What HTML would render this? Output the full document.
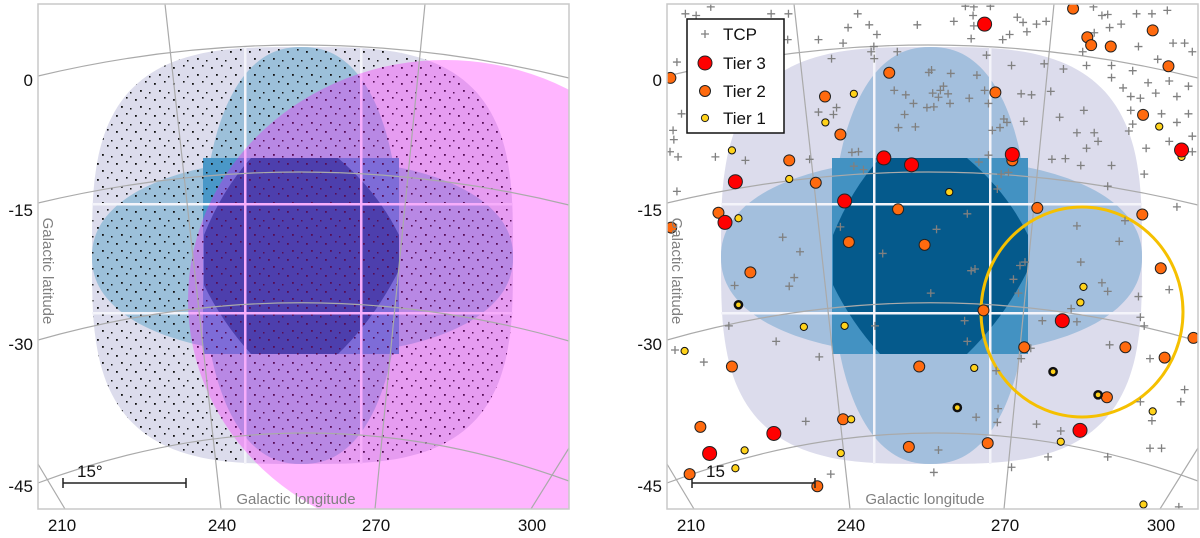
<!DOCTYPE html>
<html><head><meta charset="utf-8"><style>
html,body{margin:0;padding:0;background:#fff;width:1200px;height:538px;overflow:hidden}
svg{display:block}
text{font-family:"Liberation Sans","DejaVu Sans",sans-serif}
</style></head><body>
<svg id="chart" width="1200" height="538" viewBox="0 0 1200 538" xmlns="http://www.w3.org/2000/svg">
<defs>
<pattern id="dots" width="19" height="16" patternUnits="userSpaceOnUse">
<rect x="2" y="3" width="1.8" height="1.8" fill="#111"/>
<rect x="12" y="1" width="1.6" height="1.6" fill="#111"/>
<rect x="7" y="10" width="1.8" height="1.8" fill="#111"/>
<rect x="16" y="12" width="1.5" height="1.5" fill="#111"/>
</pattern>
<clipPath id="clipL"><rect x="38" y="4" width="531" height="505"/></clipPath>
<clipPath id="clipR"><rect x="667" y="4" width="531" height="505"/></clipPath>
</defs>
<g id="left" clip-path="url(#clipL)"></g>
<g id="right" clip-path="url(#clipR)"></g>
<g id="over"></g>
</svg>
<script>
// Marker data (in reference plot units; converted via axis functions)
const tier3X=[1000,738,810,1072,352,636,325,1202,1512,452,285,1248];
const tier3Y=[70,458,478,448,527,583,645,930,435,1257,1315,1248];
const tier2X=[1230,1437,1267,1277,1328,1478,183,752,1028,585,1412,625,492,1072,561,775,1137,1410,308,185,647,844,391,1458,997,1103,1366,1543,1468,343,830,1318,632,261,803,1008,233,565];
const tier2Y=[25,88,108,131,135,192,226,211,268,280,333,390,465,465,530,607,603,622,617,660,702,710,790,778,900,1007,1007,980,1037,1063,1063,1152,1216,1238,1296,1285,1375,1410];
const tier1X=[660,586,1454,343,1512,492,908,360,1257,1249,360,530,636,220,973,1178,1295,929,653,1437,1198,626,376,352,1413];
const tier1Y=[272,355,367,436,455,519,557,633,832,877,884,948,945,1018,1067,1078,1145,1182,1216,1193,1281,1314,1306,1358,1463];
const tier1Bold=[0,0,0,0,0,0,0,0,0,0,1,0,0,0,0,1,1,1,0,0,0,0,0,0,0];
const tcpX=[288,222,250,445,490,670,700,645,568,488,632,712,720,825,920,950,972,1015,970,972,965,1085,1100,1135,1160,1110,1065,1047,1005,1070,1155,1205,1283,1305,1320,1355,1395,1435,1475,1400,1450,1520,1540,1490,1330,1255,1285,1325,1265,1330,1385,1425,1480,1530,1360,1445,1500,1380,1405,1460,1530,1380,1500,1385,1375,1540,1480,1420,1540,1258,1195,1240,1285,1265,1295,1210,1175,1250,1330,1415,1320,1500,1365,1240,1350,1250,1305,1480,1320,1400,1225,1405,1415,1150,1240,1325,1430,1095,1030,1120,1405,1510,1520,1435,1035,978,1033,1135,1198,1165,1320,1430,1460,1505,1070,868,880,600,535,715,955,948,860,965,975,1075,955,875,735,625,520,505,492,475,350,335,458,570,270,195,200,203,182,190,192,212,200,300,378,545,660,685,985,1043,1062,1033,1092,1105,1088,1050,1040,1058,1102,1020,1010,773,713,855,862,912,980,765,795,815,850,868,885,893,905,910,865,880,792,776,820,655,672,615,607,568,602,705,1000,960,1010,1122,1095,1172];
const tcpY=[20,40,45,40,40,40,72,80,115,115,125,135,100,72,62,18,20,18,45,75,112,50,65,70,62,92,100,115,160,190,185,200,20,45,42,70,40,40,30,135,172,125,150,125,190,150,95,80,190,225,205,240,235,250,255,270,280,280,285,330,330,320,355,360,380,395,410,430,440,320,340,385,385,430,410,460,462,480,480,505,540,600,640,655,700,760,820,840,845,860,895,920,945,930,933,1000,1040,1040,1075,1010,1165,1165,1130,1220,1185,1210,1225,1230,1250,1325,1325,1300,1300,1470,1355,1370,1305,1375,1222,945,990,930,850,785,780,810,620,665,735,658,730,805,830,688,828,945,990,1035,1050,1015,555,455,440,378,405,330,180,455,465,462,482,492,470,505,500,548,770,760,850,345,370,355,352,378,450,150,170,210,203,213,218,262,275,300,312,310,262,250,272,300,270,282,332,370,368,442,440,312,332,325,170,150,262,285,300,275,272,265];
const latTicks=["0","-15","-30","-45"];
const latTickY=[80,210,344,486];
const lonTicks=["210","240","270","300"];
const lonTickX=[62,222,376,532];

const NS="http://www.w3.org/2000/svg";
const sx=v=>600+v/2.6, sy=v=>v/2.9;
function mk(tag,attrs,parent){const e=document.createElementNS(NS,tag);for(const k in attrs)e.setAttribute(k,attrs[k]);parent.appendChild(e);return e;}
function superPath(x0,y0,x1,y1,n){const cx=(x0+x1)/2,cy=(y0+y1)/2,rx=(x1-x0)/2,ry=(y1-y0)/2;let d="";for(let i=0;i<=160;i++){const t=i/160*2*Math.PI,c=Math.cos(t),s=Math.sin(t);const x=cx+rx*Math.sign(c)*Math.pow(Math.abs(c),2/n),y=cy+ry*Math.sign(s)*Math.pow(Math.abs(s),2/n);d+=(i?"L":"M")+x.toFixed(1)+","+y.toFixed(1);}return d+"Z";}
function octPath(ox){const X=v=>v+ox;return `M${X(251)},158 L${X(338)},158 Q${X(378)},192 ${X(399)},235 L${X(399)},270 Q${X(375)},318 ${X(338)},354 L${X(251)},354 Q${X(222)},322 ${X(204)},285 L${X(204)},235 Q${X(222)},190 ${X(251)},158Z`;}

function panel(g,ox,isLeft){
  let e;
  e=mk("path",{d:superPath(92+ox,47,513+ox,464,3.2),fill:"#dcdcec"},g);
  
  
  e=mk("path",{d:superPath(203+ox,47,400+ox,464,2.3),fill:isLeft?"#9cc0da":"#a3bfdd"},g);
  
  
  e=mk("path",{d:superPath(92+ox,159,513+ox,355,2.2),fill:isLeft?"#9cc0da":"#a3bfdd"},g);
  
  
  e=mk("rect",{x:203+ox,y:158,width:196,height:196,fill:isLeft?"#4a98c8":"#4392c2"},g);
  
  
  e=mk("path",{d:octPath(ox),fill:"#055a8c"},g);
  
  
  if(isLeft){
    e=mk("path",{d:superPath(92,47,513,464,3.2),fill:"url(#dots)"},g);
    
    
  }
  [244,360].forEach(x=>{mk("rect",{x:x+ox,y:47,width:2.5,height:417,fill:"#f4f4fa"},g);});
  [203,312].forEach(y=>{mk("rect",{x:92+ox,y:y,width:421,height:2.5,fill:"#f4f4fa"},g);});
  if(isLeft){
    e=mk("ellipse",{cx:445,cy:300,rx:257,ry:240,fill:"#ff00ff","fill-opacity":0.29},g);
    
    
  }
  const grid=[
   `M38,76 Q303,13 569,78`,`M38,203 Q303,140 569,205`,`M38,340 Q303,265 569,341`,`M38,483 Q303,384 569,481`,
   `M165,4 L221,509`,`M425,4 L375,509`,`M38,464 L65,509`,`M569,448 L531,509`];
  grid.forEach(d=>{const p=mk("path",{d:d,fill:"none",stroke:"#aaa","stroke-width":1.2,transform:`translate(${ox},0)`},g);
    
    });
}
const L=document.getElementById("left"),R=document.getElementById("right"),O=document.getElementById("over");
panel(L,0,true);panel(R,629,false);

const ring=mk("ellipse",{cx:1082,cy:312,rx:101,ry:105,fill:"none",stroke:"#f5c000","stroke-width":3},R);


for(let i=0;i<tcpX.length;i++){const x=sx(tcpX[i]),y=sy(tcpY[i]);
  const p=mk("path",{d:`M${x-4},${y}H${x+4}M${x},${y-4}V${y+4}`,stroke:"#808080","stroke-width":1.3},R);
  
  }
for(let i=0;i<tier2X.length;i++){const c=mk("circle",{cx:sx(tier2X[i]),cy:sy(tier2Y[i]),r:5.5,fill:"#ff6a0e",stroke:"#222","stroke-width":1},R);
  
  }
for(let i=0;i<tier1X.length;i++){const c=mk("circle",{cx:sx(tier1X[i]),cy:sy(tier1Y[i]),r:3.6,fill:"#ffd21a",stroke:"#111","stroke-width":tier1Bold[i]?2.5:1},R);
  
  }
for(let i=0;i<tier3X.length;i++){const c=mk("circle",{cx:sx(tier3X[i]),cy:sy(tier3Y[i]),r:7,fill:"#f00",stroke:"#222","stroke-width":1},R);
  
  }

[[38,"left"],[667,"right"]].forEach(([x0,nm])=>{
  let e=mk("rect",{x:x0,y:4,width:531,height:505,fill:"none",stroke:"#c8c8c8","stroke-width":1.5},O);
  
  
  latTicks.forEach((t,i)=>{const tx=mk("text",{x:x0-5,y:latTickY[i]+6,"text-anchor":"end","font-size":17,fill:"#111"},O);tx.textContent=t;
    
    });
  lonTicks.forEach((t,i)=>{const tx=mk("text",{x:lonTickX[i]+x0-38,y:531,"text-anchor":"middle","font-size":17,fill:"#111"},O);tx.textContent=t;
    
    });
  let t=mk("text",{x:x0+258,y:504,"text-anchor":"middle","font-size":15,fill:"#808080"},O);t.textContent="Galactic longitude";
  
  
  t=mk("text",{x:0,y:0,"text-anchor":"middle","font-size":15,fill:"#808080",transform:`translate(${x0+5},271) rotate(90)`},O);t.textContent="Galactic latitude";
  
  
  const bx=x0+25,bw=123;
  e=mk("path",{d:`M${bx},483H${bx+bw}M${bx},478V488M${bx+bw},478V488`,stroke:"#222","stroke-width":1.5,fill:"none"},O);
  
  
  t=mk("text",{x:bx+14,y:477,"font-size":17,fill:"#111"},O);t.textContent=nm==="left"?"15°":"15";
  
  
});

const lg=mk("g",{},O);


mk("rect",{x:687,y:19,width:97,height:114,fill:"#fff",stroke:"#111","stroke-width":1.5},lg);
const items=[["TCP",38],["Tier 3",67],["Tier 2",95],["Tier 1",122]];
items.forEach(([lab,y],i)=>{
  let m;
  if(i===0)m=mk("path",{d:`M701,${y-4}H709M705,${y-8}V${y}`,stroke:"#808080","stroke-width":1.3},lg);
  else m=mk("circle",{cx:705,cy:y-4,r:[7,5.5,3.6][i-1],fill:["#f00","#ff6a0e","#ffd21a"][i-1],stroke:"#222","stroke-width":1},lg);
  
  
  const t=mk("text",{x:723,y:y+2,"font-size":17,fill:"#111"},lg);t.textContent=lab;
  
  
});
</script>
</body></html>
